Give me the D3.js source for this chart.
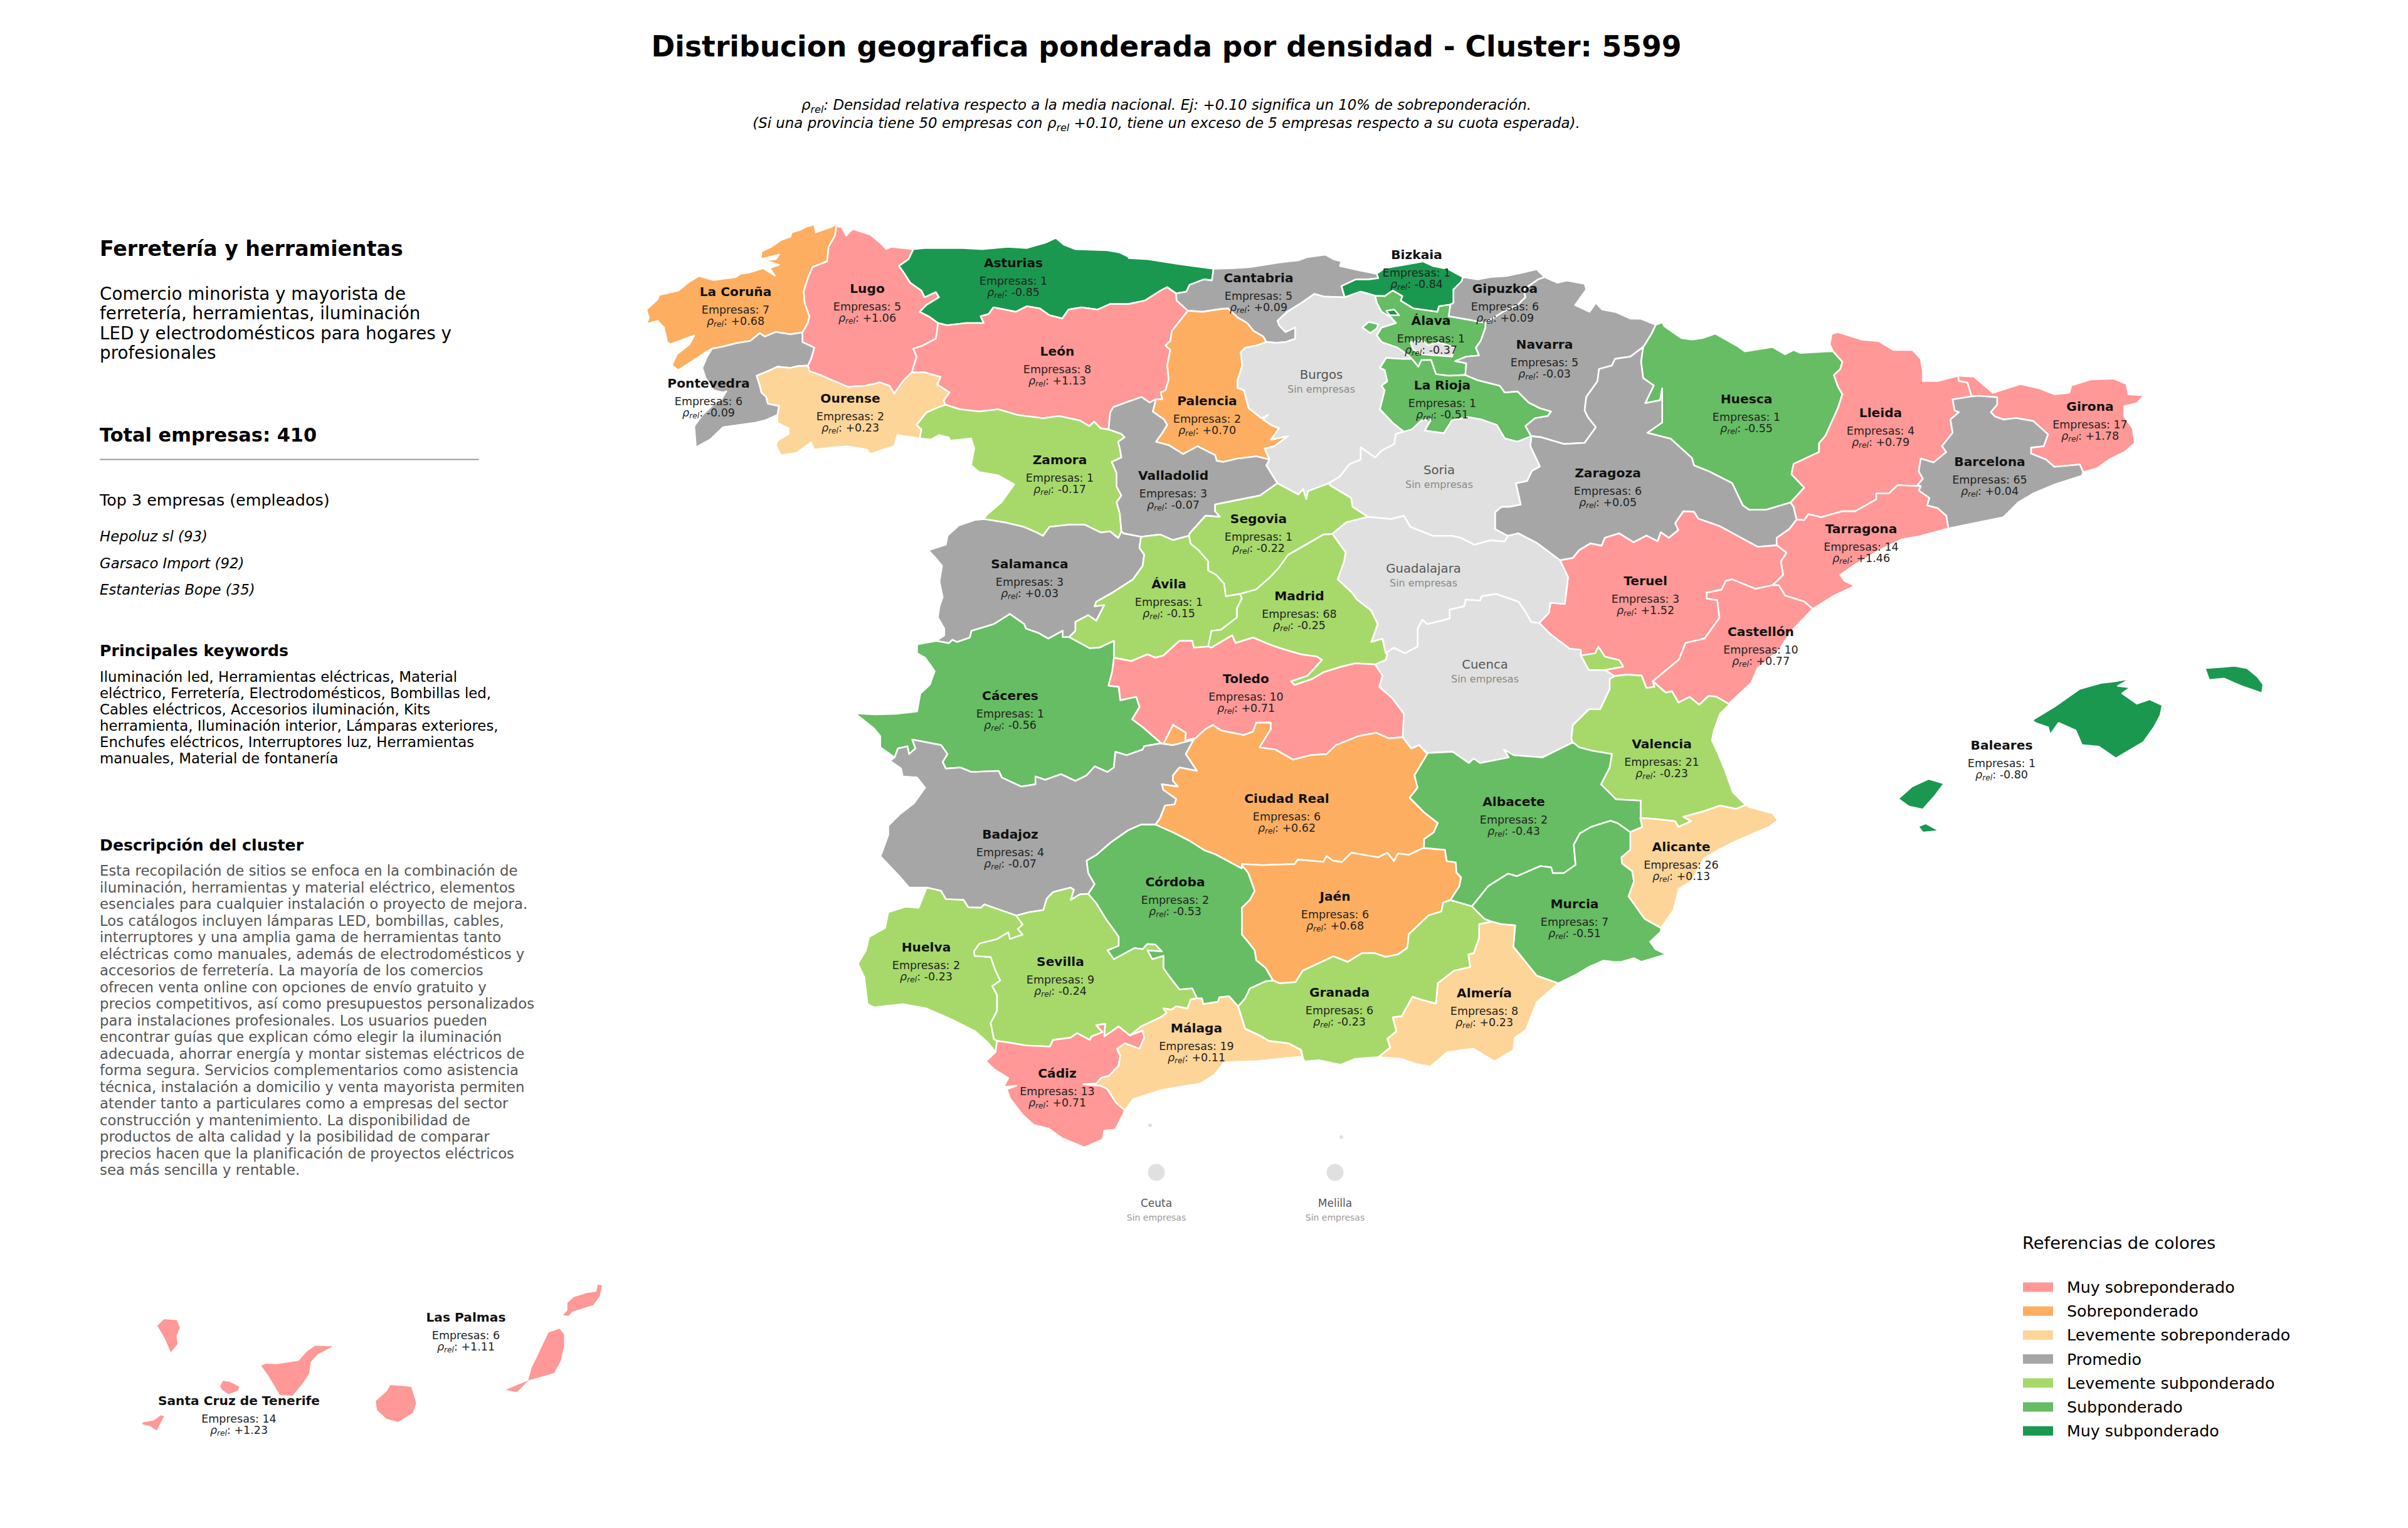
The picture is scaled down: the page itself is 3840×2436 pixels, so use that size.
<!DOCTYPE html>
<html lang="es"><head><meta charset="utf-8">
<script src="https://cdn.jsdelivr.net/npm/d3@7/dist/d3.min.js"></script>
<style>html,body{margin:0;padding:0;background:#fff}svg{display:block}text{font-family:"DejaVu Sans",sans-serif}</style>
</head><body><svg id="c" width="3840" height="2436" xmlns="http://www.w3.org/2000/svg"></svg>
<script>
// ---------- values ----------
const provinces = ["La Coruña","Lugo","Asturias","Cantabria","Bizkaia","Gipuzkoa","Álava","Navarra","La Rioja","Pontevedra","Ourense","León","Palencia","Zamora","Valladolid","Salamanca","Ávila","Segovia","Madrid","Huesca","Lleida","Girona","Barcelona","Tarragona","Zaragoza","Teruel","Castellón","Valencia","Alicante","Murcia","Albacete","Cáceres","Badajoz","Toledo","Ciudad Real","Córdoba","Jaén","Granada","Almería","Málaga","Sevilla","Huelva","Cádiz","Baleares","Las Palmas","Santa Cruz de Tenerife"];
const empresas = [7,5,1,5,1,6,1,5,1,6,2,8,2,1,3,3,1,1,68,1,4,17,65,14,6,3,10,21,26,7,2,1,4,10,6,2,6,6,8,19,9,2,13,1,6,14];
const rhoRel = [0.68,1.06,-0.85,0.09,-0.84,0.09,-0.37,-0.03,-0.51,-0.09,0.23,1.13,0.70,-0.17,-0.07,0.03,-0.15,-0.22,-0.25,-0.55,0.79,1.78,0.04,1.46,0.05,1.52,0.77,-0.23,0.13,-0.51,-0.43,-0.56,-0.07,0.71,0.62,-0.53,0.68,-0.23,0.23,0.11,-0.24,-0.23,0.71,-0.80,1.11,1.23];
const sinEmpresas = ["Burgos","Soria","Guadalajara","Cuenca"];
const plazas = ["Ceuta","Melilla"];
const legendLabels = ["Muy sobreponderado","Sobreponderado","Levemente sobreponderado","Promedio","Levemente subponderado","Subponderado","Muy subponderado"];
const legendColors = ["#ff9896","#fdae61","#fed598","#a6a6a6","#a6d96a","#66bd63","#1a9850"];
const rhoBreaks = [-0.7,-0.3,-0.1,0.1,0.3,0.705];
const noDataColor = "#e0e0e0";
const titleText = "Distribucion geografica ponderada por densidad - Cluster: 5599";
const sectorTitle = "Ferretería y herramientas";
const sectorLines = ["Comercio minorista y mayorista de","ferretería, herramientas, iluminación","LED y electrodomésticos para hogares y","profesionales"];
const totalText = "Total empresas: 410";
const topTitle = "Top 3 empresas (empleados)";
const topCompanies = ["Hepoluz sl (93)","Garsaco Import (92)","Estanterias Bope (35)"];
const kwTitle = "Principales keywords";
const kwLines = ["Iluminación led, Herramientas eléctricas, Material","eléctrico, Ferretería, Electrodomésticos, Bombillas led,","Cables eléctricos, Accesorios iluminación, Kits","herramienta, Iluminación interior, Lámparas exteriores,","Enchufes eléctricos, Interruptores luz, Herramientas","manuales, Material de fontanería"];
const descTitle = "Descripción del cluster";
const descLines = ["Esta recopilación de sitios se enfoca en la combinación de","iluminación, herramientas y material eléctrico, elementos","esenciales para cualquier instalación o proyecto de mejora.","Los catálogos incluyen lámparas LED, bombillas, cables,","interruptores y una amplia gama de herramientas tanto","eléctricas como manuales, además de electrodomésticos y","accesorios de ferretería. La mayoría de los comercios","ofrecen venta online con opciones de envío gratuito y","precios competitivos, así como presupuestos personalizados","para instalaciones profesionales. Los usuarios pueden","encontrar guías que explican cómo elegir la iluminación","adecuada, ahorrar energía y montar sistemas eléctricos de","forma segura. Servicios complementarios como asistencia","técnica, instalación a domicilio y venta mayorista permiten","atender tanto a particulares como a empresas del sector","construcción y mantenimiento. La disponibilidad de","productos de alta calidad y la posibilidad de comparar","precios hacen que la planificación de proyectos eléctricos","sea más sencilla y rentable."];

// ---------- digitised geography: survey sheets [x0,y0,kx,ky] -> shared border arcs -> rings ----------
const sheets = {A:[1000,340,1.96,2.8],B:[1800,340,1.96,2.8],C:[2600,480,1.4792,2.1189],D:[1340,820,1.96,2.8],E:[2100,820,1.96,2.8],F:[1340,1340,1.96,2.8],G:[2000,1200,1.7422,2.4889],H:[150,2000,1.8447,3],T:[0,0,0.40833,0.40833],P:[0,0,1,1]};
const arcs = {
corLug:"A 548,532 565,490 570,460 555,400 552,350 565,290 580,240 625,215 630,150 650,100 655,45",
corCoast:"A 655,45 640,60 590,85 585,50 560,60 540,75 515,85 510,105 480,120 450,150 420,170 418,205 475,185 465,205 430,210 475,230 445,245 462,278 425,245 380,265 355,270 340,285 270,298 225,280 195,305 160,345 100,365 95,385 60,430 68,465 60,495 95,480 115,510 125,575 135,585 210,545 195,585 155,630 140,680 160,700 215,650 240,625 265,605",
corPon:"A 265,605 300,595 340,580 385,570 415,535 430,550 465,530 510,540 548,532",
lugCoast:"A 655,45 660,60 670,60 685,100 705,70 760,95 790,130 810,160 825,150 895,160",
lugAst:"A 895,160 880,205 850,235 865,265 885,310 920,345 930,375 965,352 975,375 935,410 915,440 945,462 972,490",
lugLeo:"A 972,490 970,515 965,560 925,590 895,605 905,640 890,710",
lugOur:"A 890,710 865,745 835,805 820,770 790,755 745,770 715,772 690,775 640,745 610,725 570,705 565,680",
lugPon:"A 565,680 575,650 585,600 548,575 548,532",
ponOur:"A 565,680 535,682 510,690 470,685 440,705 405,725 415,770 420,800 435,820 440,850 475,860 470,900",
ponCoast:"A 265,605 250,640 235,690 245,735 270,790 300,800 310,795 295,830 265,860 235,900 210,950 215,1045 260,1010 300,955 400,935 430,925 470,900",
ourOut:"A 470,900 470,935 505,960 505,985 470,1015 465,1035 480,1080 530,1070 575,1022 585,1055 640,1045 690,1040 750,1055 760,1075 800,1055 835,1040 845,990 915,1005",
ourZam:"A 915,1005 920,965 905,945 935,890 975,865 995,855",
ourLeo:"A 995,855 990,835 1008,800 970,765 980,730 930,710 890,710",
astCoast:"A 895,160 930,155 1000,155 1050,155 1110,160 1190,150 1250,155 1310,130 1340,110 1365,140 1400,160 1500,165 1540,175 1568,195|B 0,200 60,205 150,225 265,248",
astCan:"B 265,248 260,300 235,295 190,320 180,350 148,358",
astLeo:"A 972,490 1000,500 1060,490 1115,490 1105,460 1130,450 1145,420 1180,430 1215,440 1250,415 1290,425 1320,455 1360,470 1380,430 1420,420 1470,430 1510,405 1568,405|B 50,390 100,345 120,330 148,358",
leoCan:"B 148,358 150,390 185,435",
leoPal:"B 185,435 160,480 135,525 130,570 115,590 130,610 120,680 125,740 115,790 100,800 105,830 85,830",
leoVal:"A 1505,965 1510,890 1520,865|B 0,840 40,820 65,845 85,830",
leoZam:"A 995,855 1040,875 1100,885 1160,875 1220,900 1300,915 1350,905 1415,925 1445,950 1460,930 1480,960 1505,965",
zamOut:"A 915,1005 950,1010 975,990 1005,1000 1010,1015 1075,1005 1085,1050 1075,1125 1100,1155 1160,1170 1210,1210 1170,1290 1125,1345 1115,1365",
zamSal:"A 1115,1365 1180,1380 1240,1400 1280,1425 1300,1440 1320,1400 1380,1390 1430,1390 1480,1425 1510,1420 1535,1450 1545,1420",
zamVal:"A 1505,965 1545,985 1555,1000 1535,1020 1540,1050 1545,1090 1515,1110 1530,1160 1530,1220 1545,1260 1530,1290 1540,1340 1545,1420",
canCoast:"B 265,248 330,245 380,240 470,220 530,210 560,195 615,185 640,205 665,215 660,235 720,255 775,270",
canBiz:"B 775,270 780,290 750,295 710,295 665,325 675,375",
canBur:"B 675,375 610,372 580,360 540,400 495,440 465,480 470,500 490,530 520,510 520,560 490,575 460,578 430,575",
canPal:"B 430,575 420,550 390,525 370,490 340,465 310,425 285,428 230,440 185,435",
palBur:"B 430,575 400,590 365,600 350,620 355,680 340,745 340,780 360,790 375,870 415,915 435,900 420,920 445,945 470,960 445,1010 498,995 455,1040 425,1050 440,1100",
palVal:"B 85,830 75,885 110,920 120,945 105,980 85,1020 125,1035 170,1075 215,1040 270,1080 275,1105 295,1110 340,1095 400,1085 440,1100",
valBur:"B 440,1100 430,1125 465,1205",
valSeg:"B 465,1205 410,1260 340,1280 270,1300 270,1330 285,1355 240,1350 190,1430",
valAvi:"D 1090,95 1040,115 1000,90 940,100",
valSal:"D 879,76 885,85 940,100",
salCac:"D 300,565 340,575 350,560 365,570 405,550 410,520 480,490 530,445 575,490 580,510 620,530 650,555 695,520 695,548 715,548",
salAvi:"D 715,548 735,520 735,480 775,450 800,475 825,405 795,410 800,390 850,350 915,290 945,230 950,180 935,150 940,100",
salOut:"D 449,21 420,25 370,50 335,95 330,135 275,160 295,190 318,230 310,300 320,370 310,410 305,460 325,510 325,540 300,565",
aviCac:"D 715,548 750,575 780,598 810,595 855,565 855,640",
aviTol:"D 855,640 910,655 960,625 985,640 1010,630 1060,565 1100,565 1105,595 1150,590",
aviMad:"D 1150,590 1155,555 1160,520 1190,515 1240,460 1240,420 1255,375 1250,355",
aviSeg:"D 1250,355 1205,365 1200,310 1175,270 1150,250 1150,210 1120,160 1095,130 1090,95",
segMad:"D 1250,355 1300,335 1340,285 1370,240 1400,180 1450,140 1510,90 1537,88",
segGua:"B 635,1432 680,1380 748,1355",
segSor:"B 748,1355 700,1310 695,1270 630,1215 625,1205",
segBur:"B 625,1205 560,1240 555,1275 545,1230 530,1255 465,1205",
burBiz:"B 675,375 725,350 745,358 770,368",
bizAla:"B 770,368 800,370 825,345 855,370 850,390 890,425 965,440 970,415 1005,408",
bizGip:"B 1005,408 1015,400 1015,340 1040,305 1045,285",
bizCoast:"B 775,270 800,245 860,230 920,215 950,235 1000,250 1045,285",
gipCoast:"B 1045,285 1090,295 1130,285 1180,280 1230,265 1275,250 1300,285",
gipNav:"B 1300,285 1280,295 1235,340 1240,375 1215,410 1170,440 1115,490",
gipAla:"B 1115,490 1060,475 1000,460 1005,408",
alaNav:"B 1115,490 1115,510 1100,570 1085,600 1095,635 1055,640 1020,660 1040,665 1055,670 1052,722",
alaRio:"B 1052,722 1000,725 960,718 945,655 915,655 905,685 885,650",
burAla:"B 770,368 775,400 790,440 820,465 835,490 790,510 775,545 790,575 840,600 870,630 885,650",
burRio:"B 885,650 860,650 830,648 805,645 785,690 800,700 808,750 790,770 800,790 785,875 825,935 860,975",
burSor:"B 860,975 835,985 830,1030 790,1060 770,1090 725,1045 725,1100 690,1120 660,1175 625,1205",
rioNav:"B 1052,722 1090,745 1160,770 1175,800 1215,795 1250,845 1285,870 1320,885 1310,905 1270,915 1240,950 1258,995",
rioSor:"B 860,975 885,965 915,925 945,920 925,970 985,982 1010,925 1060,910 1100,920 1150,945 1175,1005 1215,1020 1258,995",
navZar:"B 1258,995 1290,1000 1360,1030 1425,1025 1460,955 1435,910 1425,880 1430,820 1465,750 1470,695 1510,680 1520,650 1568,640|C 30,155",
navHue:"C 30,155 35,145 50,110 60,80",
navTop:"B 1300,285 1340,310 1370,300 1425,315 1430,340 1395,410 1440,440 1460,400 1480,430 1520,440 1568,470|C 25,60 60,80",
zarHue:"C 30,155 25,205 30,260 55,285 35,345 70,335 75,295 75,410 40,445 95,465 145,530 150,555 185,575 240,615 265,690 280,705 320,705 378,680",
hueLle:"C 378,680 410,630 380,585 385,550 400,540 445,510 445,480 460,455 490,360 500,315 490,290 480,250 495,230 500,205 478,170",
hueTop:"C 60,80 75,72 80,85 120,125 145,130 170,125 200,110 250,150 270,170 335,155 365,180 385,165 400,175 465,170 478,170",
zarLle:"C 378,680 385,695 392,738",
zarTar:"C 392,738 375,770 345,800 345,825",
zarTer:"E 760,205 800,195 820,160 855,130 890,140 900,105 945,85 990,125 1030,95 1065,120 1075,80 1100,105 1130,70 1120,40|C 125,710 150,712 160,735 210,760 300,830 345,825",
zarGua:"E 597,96 630,85 690,130 760,205",
zarSor:"B 1258,995 1255,1040 1285,1130 1260,1150 1245,1195 1210,1205 1225,1300 1190,1310 1165,1310 1145,1335 1145,1410 1185,1440",
sorGua:"B 1185,1440 1175,1465 1130,1460 1080,1480 1040,1450 1010,1440 950,1440 880,1400 860,1350 820,1365 748,1355",
lleGir:"C 773,252 775,270 795,275 805,322",
lleTop:"C 478,170 470,145 475,110 490,105 545,130 585,135 620,165 665,165 685,195 690,240 690,270 725,270 773,252",
lleBar:"C 805,322 760,332 765,370 775,375 755,400 760,445 735,490 745,510 715,545 685,532 680,575 690,600 678,620 685,625",
lleTar:"C 685,625 630,622 610,650 580,650 580,670 530,710 500,710 450,730 420,720 410,740 392,738",
girOut:"C 773,252 810,255 835,285 855,310 920,280 965,295 1000,315 1035,310 1040,285 1085,265 1140,262 1170,280 1175,315 1212,318 1195,345 1165,355 1165,390 1185,430 1190,480 1165,510 1130,535 1100,565 1068,578",
girBar:"C 1068,578 1060,552 1000,560 980,535 945,515 945,495 975,490 985,450 950,405 910,395 880,400 860,390 850,375 865,350 865,325 822,320 805,322",
barCoast:"C 1068,578 1065,590 1000,620 950,650 915,680 880,730 750,768",
barTar:"C 750,768 745,725 725,700 700,690 705,665 680,640 685,625",
tarCoast:"C 750,768 680,795 640,805 590,840 530,890 495,925 505,945 530,962 480,995 430,1040",
tarCas:"C 430,1040 410,1015 365,995 350,960 335,960",
tarTer:"C 335,960 360,925 355,880 368,850 345,825",
terCas:"C 335,960 295,972 240,940 225,945 215,975 180,985 180,1005 205,1010 210,1070 175,1140 130,1155 115,1210 53,1284",
terVal:"E 1050,745 1055,770 1030,775 1015,720 970,715 930,722",
terCue:"E 695,485 730,535 790,600 825,605 825,630 850,695 900,695 930,722",
terGua:"E 760,205 785,280 775,400 730,395 725,440 695,485",
casCoast:"C 430,1040 380,1115 350,1180 300,1240 285,1290 232,1360",
casVal:"E 1050,745 1090,795 1110,790 1130,840 1165,815 1195,850 1225,810 1250,815 1290,848",
valCoast:"E 1290,848 1260,890 1240,970 1235,1010 1255,1070 1275,1140 1300,1240 1340,1297",
valAli:"E 1012,1355 1060,1360 1120,1370 1130,1395 1170,1370 1145,1350 1210,1325 1260,1300 1310,1315 1340,1297",
valAlb:"E 800,1018 820,1040 860,1055 922,1070 915,1130 888,1205 935,1272 1012,1278 1012,1355",
cueVal:"E 930,722 915,735 915,780 885,870 850,870 800,940 795,1000 800,1018",
cueAlb:"E 800,1018 705,1085 615,1075 585,1050 600,1085 510,1110 490,1090 475,1110 425,1060 345,1065 320,1030 295,1045",
cueCR:"E 295,1045 268,995",
cueTol:"E 268,995 272,890 235,820 195,770 205,720 182,670",
cueMad:"E 182,670 215,650 220,625 215,620",
cueGua:"E 215,620 240,595 275,620 315,590 315,510 330,470 345,490 415,465 415,425 460,410 465,380 510,385 515,365 560,355 630,390 650,430 670,480 695,485",
madGua:"E 50,90 90,170 85,210 65,290 110,350 125,380 170,430 190,490 170,570 205,555 215,620",
madTol:"D 1150,590 1160,595 1225,540 1235,575 1290,550 1340,580 1380,600 1440,625 1490,635 1505,650 1480,690 1460,720 1420,740 1408,745 1420,762 1475,735 1510,705|E 78,680 120,665 182,670",
tolCac:"D 855,640 850,700 838,765 870,770 875,830 925,815 935,860 912,915 945,950 1003,1022",
tolCR:"D 1003,1022 1010,1025 1040,940 1080,975 1078,1010 1110,1000 1140,960 1165,940 1190,965 1260,985 1290,970 1300,930 1345,930 1345,960 1310,1040 1360,1050 1415,1095 1470,1075 1520,1070|E 60,1030 130,990 185,975 225,1000 268,995",
cacBad:"D 1003,1022 950,1035 945,1050 895,1075 860,1060 855,1130 835,1150 795,1125 770,1165 735,1190 690,1160 640,1185 610,1170 610,1205 565,1215 505,1175 495,1145 410,1150 375,1130 330,1135 320,1105 335,1070 315,1030 225,1005 235,1045 215,1070 210,1035 180,1045 170,1085",
cacOut:"D 170,1085 125,1040 125,990 105,955 45,888 110,893 175,890 240,880 250,800 280,760 295,700 265,640 240,620 240,580 300,565",
badCR:"D 1003,1022 1040,1030 1105,1005 1080,1070 1115,1145 1060,1130 1040,1165 1040,1190 1055,1215 1005,1205 1010,1230 1050,1270 1045,1295 1015,1300 1000,1355 985,1385",
badCor:"D 985,1385 940,1385 900,1410 845,1465|F 800,65 770,90 775,145 795,195 775,238",
badSev:"F 775,238 750,240 720,265 730,220 720,210 665,230 645,260 635,310 590,320 550,335",
badHue:"F 550,335 480,300 450,285 440,300 400,298 385,265 330,262 315,225 270,210",
badOut:"F 270,210 215,210 185,160 165,130 135,85 125,70|D 130,1510 150,1430 150,1390 185,1340 230,1290 265,1220 240,1175 195,1170 190,1135 155,1100 170,1085",
crCor:"F 1255,105 1255,125 1170,60 1140,45 1090,0|D 1040,1420 985,1385",
crJae:"F 1255,105 1320,110 1420,105 1430,85 1510,95 1520,70 1540,90|G 244,434 270,397 345,415 370,397 388,430 400,400 430,405 470,378",
crAlb:"E 295,1045 320,1030 345,1070 305,1165 315,1220 290,1265 335,1330 378,1378 365,1420 335,1450 335,1480",
jaeAlb:"G 470,378 530,385 535,430 560,435 562,475 575,495 570,530 545,585",
jaeGra:"G 545,585 525,595 520,630 485,645 430,720 425,775 400,800 365,810 335,795 300,795 260,830 220,808 135,865 115,910 70,915 55,905",
jaeCor:"F 1352,625 1330,570 1300,535 1295,490 1270,445 1255,420 1255,300 1280,265 1295,225 1275,145 1258,115 1255,105",
albGra:"G 545,585 605,610",
albMur:"G 605,610 650,530 705,480 730,490 795,450 825,455 830,478 860,478 893,445 888,365 905,320 935,295 990,270 1010,280 1045,315",
albAli:"G 1045,315 1078,295 1073,259",
aliCoast:"G 1365,207 1375,215 1440,240 1455,268 1430,295 1380,325 1340,350 1290,385 1250,420 1215,510 1180,540 1165,625 1130,695",
aliMur:"G 1130,695 1085,660 1040,570 1055,510 1050,470 1022,440 1020,415 1045,385 1045,315",
murCoast:"G 1130,695 1130,710 1100,750 1115,780 1145,800 1110,815 1075,830 1055,815 1020,830 1000,830 970,825 930,850 895,880 845,915",
murAlm:"G 845,915 785,885 720,770 725,685 685,680 660,670",
murGra:"G 660,670 640,660 605,610",
almGra:"G 660,670 625,680 625,735 610,795 595,800 600,850 555,865 510,915 505,995 465,980 440,968 410,1045 385,1050 395,1105 370,1135 378,1170 345,1208",
almCoast:"G 845,915 785,990 755,1100 725,1130 720,1180 668,1225 610,1175 575,1180 535,1190 490,1245 450,1235 410,1215 345,1208",
graCoast:"G 345,1208 280,1215 240,1238 180,1220 140,1225 134,1207",
malGra:"F 1445,965 1440,935 1400,905 1340,895 1310,870 1265,840 1250,770 1243,740",
corGra:"F 1243,740 1265,705 1280,660 1330,628 1352,625",
malCor:"F 1243,740 1215,695 1185,700 1180,720 1135,730 1130,705 1115,705",
corSev:"F 1115,705 1100,660 1060,665 1030,610 1010,570 1010,515 975,530 960,490 1005,495 985,465 960,462 945,485 920,480 855,530 835,490 870,470 870,430 855,400 830,350 800,280 775,238",
hueSev:"F 550,335 570,375 555,395 570,420 530,440 525,410 490,440 435,460 418,495 420,515 470,520 485,580 500,625 475,650 490,690 490,760 470,815 480,885 490,895",
hueCoast:"F 270,210 245,300 205,295 150,320 140,390 90,430 80,490 55,550 75,610 85,730 105,745 195,730 270,750 350,800 420,850 460,900 485,945",
hueCad:"F 490,895 485,945",
sevCad:"F 490,895 520,900 580,915 655,920 665,890 720,880 740,860 780,890 785,875 820,855 800,825 828,818 825,875 870,830 905,870",
sevMal:"F 905,870 940,830 1000,790 1020,770 1010,750 1035,755 1050,740 1085,750 1095,710 1115,705",
cadMal:"F 905,870 945,848 950,880 935,930 890,905 865,930 875,960 870,1005 840,1050 815,1060 800,1085 760,1088 815,1095 835,1110 862,1170 890,1205",
cadCoast:"F 890,1205 860,1290 825,1295 820,1335 763,1370 695,1330 650,1285 605,1270 570,1225 530,1150 520,1110 550,1095 510,1100 525,1060 480,1020 455,985 485,945",
malCoast:"F 890,1205 915,1155 1000,1115 1060,1100 1125,1085 1170,1045 1200,990 1300,985 1400,970 1445,965"
};
const rings = {
"La Coruña":"corLug corCoast corPon",
"Lugo":"lugCoast lugAst lugLeo lugOur lugPon corLug",
"Pontevedra":"corPon -lugPon ponOur -ponCoast",
"Ourense":"lugOur ponOur ourOut ourZam ourLeo",
"Asturias":"astCoast astCan -astLeo -lugAst",
"León":"astLeo leoCan leoPal -leoVal -leoZam ourLeo -lugLeo",
"Zamora":"leoZam zamVal -zamSal -zamOut ourZam",
"Cantabria":"canCoast canBiz canBur canPal -leoCan -astCan",
"Palencia":"-canPal palBur -palVal -leoPal",
"Valladolid":"leoVal palVal valBur valSeg valAvi -valSal -zamVal",
"Salamanca":"zamSal valSal -salAvi -salCac -salOut",
"Ávila":"salAvi -valAvi -aviSeg -aviMad -aviTol -aviCac",
"Segovia":"valSeg -aviSeg segMad segGua segSor segBur",
"Bizkaia":"bizCoast -bizGip -bizAla -burBiz -canBiz",
"Gipuzkoa":"gipCoast gipNav gipAla bizGip",
"Álava":"bizAla -gipAla alaNav alaRio -burAla",
"Burgos":"burBiz burAla burRio burSor segBur -valBur -palBur -canBur",
"La Rioja":"-alaRio rioNav -rioSor -burRio",
"Navarra":"navTop -navHue -navZar -rioNav -alaNav -gipNav",
"Huesca":"hueTop -hueLle -zarHue navHue",
"Zaragoza":"navZar zarHue zarLle zarTar -zarTer -zarGua -zarSor",
"Soria":"-burSor rioSor zarSor sorGua segSor",
"Lleida":"lleTop lleGir lleBar lleTar -zarLle hueLle",
"Girona":"girOut girBar -lleGir",
"Barcelona":"barCoast barTar -lleBar -girBar",
"Tarragona":"tarCoast tarCas tarTer -zarTar -lleTar -barTar",
"Teruel":"zarTer -tarTer terCas terVal -terCue -terGua",
"Castellón":"casCoast -casVal -terCas -tarCas",
"Valencia":"-terVal casVal valCoast -valAli -valAlb -cueVal",
"Cuenca":"cueGua terCue cueVal cueAlb cueCR cueTol cueMad",
"Guadalajara":"sorGua -segGua madGua cueGua -terGua -zarGua",
"Madrid":"aviMad segMad madGua -cueMad -madTol",
"Toledo":"aviTol madTol -cueTol -tolCR -tolCac",
"Cáceres":"salCac aviCac tolCac cacBad cacOut",
"Badajoz":"-cacBad badCR badCor badSev badHue badOut",
"Ciudad Real":"tolCR -cueCR crAlb -crJae crCor -badCR",
"Jaén":"crJae jaeAlb jaeGra jaeCor",
"Albacete":"-cueAlb valAlb -albAli -albMur -albGra -jaeAlb -crAlb",
"Alicante":"valAli aliCoast aliMur albAli",
"Murcia":"albMur -aliMur murCoast murAlm murGra",
"Almería":"-murAlm almCoast -almGra",
"Granada":"albGra -murGra almGra graCoast malGra corGra -jaeGra",
"Córdoba":"-crCor -jaeCor -corGra malCor corSev -badCor",
"Huelva":"-badHue hueSev hueCad -hueCoast",
"Sevilla":"-badSev -corSev -sevMal -sevCad -hueSev",
"Cádiz":"sevCad cadMal cadCoast -hueCad",
"Málaga":"sevMal -malCor -malGra -malCoast -cadMal"
};
// islands, enclaves and exclaves, painted after the mainland
const extraShapes = [
["Burgos","B 880,575 920,570 935,590 965,575 1000,590 1020,600 1010,640 920,630 890,610"],
["Álava","B 730,510 750,485 780,495 775,515 755,535"],
["Bizkaia","B 805,435 830,430 845,455 815,455"],
["Valencia","E 825,630 870,620 880,590 900,635 945,650 958,680 900,695 850,695"],
["Baleares","C 948,1415 1000,1370 1040,1330 1060,1310 1110,1290 1140,1285 1180,1275 1150,1300 1180,1305 1160,1325 1195,1360 1225,1345 1255,1365 1250,1400 1235,1440 1210,1490 1145,1545 1105,1505 1065,1500 1050,1450 1010,1425 990,1465 985,1440 955,1425"],
["Baleares","C 1355,1240 1400,1235 1425,1232 1455,1240 1480,1270 1493,1295 1490,1325 1440,1300 1400,1275 1365,1280"],
["Baleares","T 1236,520 1245,512 1256,507 1266,510 1260,518 1252,527 1243,525"],
["Baleares","T 1249,538 1254,536 1263,541 1252,542"],
["Santa Cruz de Tenerife","H 183,340 205,305 245,310 255,350 245,390 248,430 225,475 205,400"],
["Santa Cruz de Tenerife","H 488,530 505,518 540,520 600,505 625,460 650,432 690,435 705,432 700,445 660,480 640,515 635,570 615,620 585,680 545,675 510,580"],
["Santa Cruz de Tenerife","H 368,630 378,600 400,605 430,630 425,655 395,672 375,650"],
["Santa Cruz de Tenerife","H 140,800 175,790 195,765 210,770 200,800 185,848 165,825 140,815"],
["Las Palmas","H 826,700 860,650 870,620 910,625 935,630 950,710 940,760 895,805 860,790 830,745"],
["Las Palmas","H 1375,292 1390,265 1390,230 1410,200 1450,180 1475,175 1480,140 1497,145 1490,200 1470,245 1410,275 1395,298"],
["Las Palmas","H 1202,648 1275,600 1285,540 1300,490 1335,370 1370,350 1385,380 1385,440 1375,510 1355,570 1280,605 1245,662"],
["Las Palmas","H 1472,125 1480,110 1478,128"]
];
// label anchors on the page sheet
const labelAnchors = {"La Coruña":[1173,465],"Lugo":[1383,460],"Asturias":[1616,419],"León":[1686,560],"Pontevedra":[1130,611],"Ourense":[1356,635],"Zamora":[1690,733],"Cantabria":[2007,443],"Bizkaia":[2259,406],"Gipuzkoa":[2400,460],"Navarra":[2463,549],"Álava":[2282,511],"La Rioja":[2300,614],"Palencia":[1925,639],"Valladolid":[1871,758],"Segovia":[2007,827],"Huesca":[2785,636],"Lleida":[2999,658],"Girona":[3333,648],"Barcelona":[3173,736],"Tarragona":[2968,843],"Castellón":[2808,1007],"Baleares":[3192,1188],"Zaragoza":[2564,754],"Salamanca":[1642,899],"Ávila":[1864,931],"Madrid":[2072,950],"Cáceres":[1611,1109],"Toledo":[1987,1082],"Ciudad Real":[2052,1273],"Badajoz":[1611,1330],"Teruel":[2624,926],"Valencia":[2650,1186],"Albacete":[2414,1278],"Alicante":[2681,1350],"Córdoba":[1874,1406],"Huelva":[1477,1510],"Sevilla":[1691,1533],"Málaga":[1908,1639],"Cádiz":[1686,1711],"Jaén":[2129,1429],"Murcia":[2511,1441],"Granada":[2136,1582],"Almería":[2367,1583],"Las Palmas":[743,2100],"Santa Cruz de Tenerife":[381,2233],"Burgos":[2107,597],"Soria":[2295,749],"Guadalajara":[2270,906],"Cuenca":[2368,1059]};
const plazaPoints = {"Ceuta":[1844,1869],"Melilla":[2129,1869]};
const islets = [[1834,1794],[2139,1813]];

// ---------- scales and projection ----------
const KM = 189.5, LON0 = -9.3, LAT0 = 43.79, PX0 = 1030, PY0 = 355;
const toLonLat = (px,py)=>[LON0+(px-PX0)/KM, LAT0-(py-PY0)/KM];
const projection = d3.geoIdentity().reflectY(true).scale(KM).translate([PX0-LON0*KM, PY0+LAT0*KM]);
const geoPath = d3.geoPath(projection);
const parseChain = s => s.split("|").flatMap(seg=>{
  seg=seg.trim(); const sh=sheets[seg[0]];
  return seg.slice(1).trim().split(/\s+/).map(p=>{const [x,y]=p.split(",").map(Number);return toLonLat(sh[0]+x/sh[2],sh[1]+y/sh[3]);});
});
const arcCoords = Object.fromEntries(Object.entries(arcs).map(([k,v])=>[k,parseChain(v)]));
const ringCoords = spec => { const r = spec.split(" ").flatMap(n=> n[0]==="-" ? arcCoords[n.slice(1)].slice().reverse() : arcCoords[n]); r.push(r[0]); return r; };
const closed = c => c.concat([c[0]]);
const rhoOf = new Map(provinces.map((p,i)=>[p,rhoRel[i]]));
const color = d3.scaleThreshold().domain(rhoBreaks).range(legendColors.slice().reverse());
const fillOf = n => rhoOf.has(n) ? color(rhoOf.get(n)) : noDataColor;

const svg = d3.select("#c");
svg.append("rect").attr("width",3840).attr("height",2436).attr("fill","#fff");
const gMap = svg.append("g");
const mainland = Object.entries(rings).map(([name,spec])=>({type:"Feature",properties:{name},geometry:{type:"Polygon",coordinates:[ringCoords(spec)]}}));
const extras = extraShapes.map(([name,spec])=>({type:"Feature",properties:{name},geometry:{type:"Polygon",coordinates:[closed(parseChain(spec))]}}));
gMap.selectAll("path.prov").data(mainland.concat(extras)).join("path").attr("class","prov")
  .attr("d",geoPath).attr("fill",d=>fillOf(d.properties.name)).attr("stroke","#fff").attr("stroke-width",2.6).attr("stroke-linejoin","round");
const pt = ([x,y]) => ({type:"Point",coordinates:toLonLat(x,y)});
gMap.selectAll("path.plaza").data(plazas).join("path").attr("class","plaza").attr("d",d=>d3.geoPath(projection).pointRadius(13.5)(pt(plazaPoints[d]))).attr("fill",noDataColor);
gMap.selectAll("path.islet").data(islets).join("path").attr("class","islet").attr("d",d=>d3.geoPath(projection).pointRadius(3)(pt(d))).attr("fill",noDataColor);

// ---------- text ----------
const gT = svg.append("g");
function T(x,y,s,fs,o={}){ return gT.append("text").attr("x",x).attr("y",y).attr("font-size",fs).attr("text-anchor",o.anchor||"start")
  .attr("font-weight",o.bold?"bold":"normal").attr("font-style",o.italic?"italic":"normal").attr("fill",o.fill||"#000").text(s); }
function rhoLine(x,y,fs,rest,fill){
  const t=gT.append("text").attr("x",x).attr("y",y).attr("font-size",fs).attr("text-anchor","middle").attr("fill",fill);
  t.append("tspan").attr("font-style","italic").text("ρ");
  t.append("tspan").attr("font-style","italic").attr("font-size",fs*0.7).attr("dy",fs*0.2).text("rel");
  t.append("tspan").attr("dy",-fs*0.2).text(": "+rest);
}
const fmt = d3.format("+.2f");
provinces.forEach((p,i)=>{
  const [x,y]=labelAnchors[p];
  T(x,y+7,p,20.2,{bold:true,anchor:"middle",fill:"#111"});
  T(x,y+34.5,"Empresas: "+empresas[i],17.5,{anchor:"middle",fill:"#222"});
  rhoLine(x,y+52.5,17.5,fmt(rhoRel[i]).replace("−","-"),"#222");
});
sinEmpresas.forEach(p=>{
  const [x,y]=labelAnchors[p];
  T(x,y+7,p,19.7,{anchor:"middle",fill:"#555"});
  T(x,y+29,"Sin empresas",16,{anchor:"middle",fill:"#888"});
});
plazas.forEach(p=>{
  const x=plazaPoints[p][0];
  T(x,1924,p,17,{anchor:"middle",fill:"#555"});
  T(x,1946,"Sin empresas",14,{anchor:"middle",fill:"#999"});
});
T(1860,90,titleText,45.6,{bold:true,anchor:"middle"});
// subtitle
(function(){
  const fs=22.9;
  const l1=gT.append("text").attr("x",1860).attr("y",175).attr("font-size",fs).attr("text-anchor","middle").attr("font-style","italic");
  l1.append("tspan").text("ρ");
  l1.append("tspan").attr("font-size",fs*0.7).attr("dy",fs*0.2).text("rel");
  l1.append("tspan").attr("dy",-fs*0.2).text(": Densidad relativa respecto a la media nacional. Ej: +0.10 significa un 10% de sobreponderación.");
  const l2=gT.append("text").attr("x",1860).attr("y",204).attr("font-size",fs).attr("text-anchor","middle").attr("font-style","italic");
  l2.append("tspan").text("(Si una provincia tiene 50 empresas con ρ");
  l2.append("tspan").attr("font-size",fs*0.7).attr("dy",fs*0.2).text("rel");
  l2.append("tspan").attr("dy",-fs*0.2).text(" +0.10, tiene un exceso de 5 empresas respecto a su cuota esperada).");
})();
// left panel
const LX=159;
T(LX,408,sectorTitle,33.2,{bold:true});
sectorLines.forEach((s,i)=>T(LX,478+i*31.3,s,27.8));
T(LX,704,totalText,30.4,{bold:true});
gT.append("line").attr("x1",LX).attr("x2",763.5).attr("y1",732.6).attr("y2",732.6).attr("stroke","#999").attr("stroke-width",2);
T(LX,806,topTitle,25.4);
topCompanies.forEach((s,i)=>T(LX,863+i*42.5,s,22.8,{italic:true}));
T(LX,1046,kwTitle,25.2,{bold:true});
kwLines.forEach((s,i)=>T(LX,1087+i*25.9,s,22.9));
T(LX,1356,descTitle,25.2,{bold:true});
descLines.forEach((s,i)=>T(LX,1396+i*26.5,s,22.85,{fill:"#555"}));
// legend
T(3225,1991,"Referencias de colores",27.3);
legendLabels.forEach((s,i)=>{
  const yc=2052+i*38.2;
  gT.append("rect").attr("x",3226).attr("y",yc-7.5).attr("width",48).attr("height",15).attr("fill",legendColors[i]);
  T(3296,yc+9,s,25.3);
});
</script></body></html>
